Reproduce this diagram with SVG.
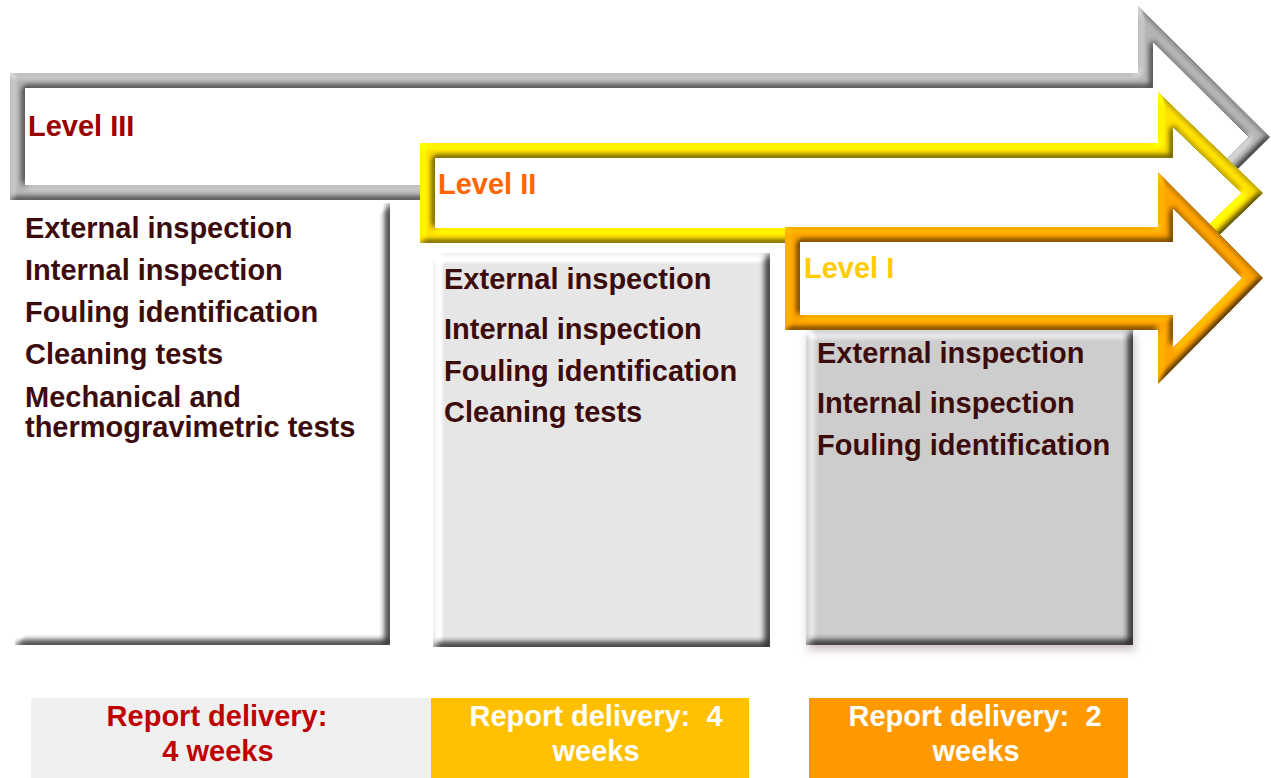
<svg xmlns="http://www.w3.org/2000/svg" xmlns:xlink="http://www.w3.org/1999/xlink" width="1271" height="778" viewBox="0 0 1271 778">
<style>
.item{font-family:"Liberation Sans",Arial,sans-serif;font-weight:bold;font-size:29px;fill:#3c0c0c}
.lvl{font-family:"Liberation Sans",Arial,sans-serif;font-weight:bold;font-size:29px}
.rep{font-family:"Liberation Sans",Arial,sans-serif;font-weight:bold;font-size:29px;text-anchor:middle}
.band{fill:none;stroke-width:30;stroke-linejoin:miter;stroke-miterlimit:10}
</style>
<defs>
<polygon id="pg" points="10,73 1138,73 1138,6 1270,137 1138,268 1138,200 10,200"/>
<polygon id="py" points="420,143 1158,143 1158,92 1263,193 1158,294 1158,243 420,243"/>
<polygon id="po" points="785,227 1158,227 1158,172 1263,278 1158,384 1158,330 785,330"/>
<clipPath id="cg"><use xlink:href="#pg"/></clipPath>
<clipPath id="cy"><use xlink:href="#py"/></clipPath>
<clipPath id="co"><use xlink:href="#po"/></clipPath>
<filter id="bevel" color-interpolation-filters="sRGB" x="-5%" y="-5%" width="110%" height="110%">
<feGaussianBlur in="SourceAlpha" stdDeviation="3" result="b"/>
<feDiffuseLighting in="b" surfaceScale="5" diffuseConstant="1" lighting-color="#ffffff" result="l">
<feDistantLight azimuth="225" elevation="50"/>
</feDiffuseLighting>
<feComposite in="SourceGraphic" in2="l" operator="arithmetic" k1="0.75" k2="0.43" k3="0" k4="0"/>
</filter>
<filter id="boxbevel" color-interpolation-filters="sRGB" x="-5%" y="-5%" width="110%" height="110%">
<feGaussianBlur in="SourceAlpha" stdDeviation="4.5" result="b"/>
<feDiffuseLighting in="b" surfaceScale="8" diffuseConstant="1" lighting-color="#ffffff" result="l">
<feDistantLight azimuth="225" elevation="50"/>
</feDiffuseLighting>
<feComposite in="SourceGraphic" in2="l" operator="arithmetic" k1="0.95" k2="0.28" k3="0" k4="0"/>
</filter>
<filter id="boxshadow" color-interpolation-filters="sRGB" x="-10%" y="-10%" width="120%" height="120%">
<feGaussianBlur in="SourceAlpha" stdDeviation="4.5" result="b"/>
<feDiffuseLighting in="b" surfaceScale="8" diffuseConstant="1" lighting-color="#ffffff" result="l">
<feDistantLight azimuth="225" elevation="50"/>
</feDiffuseLighting>
<feComposite in="SourceGraphic" in2="l" operator="arithmetic" k1="0.95" k2="0.28" k3="0" k4="0" result="lit"/>
<feGaussianBlur in="SourceAlpha" stdDeviation="4" result="sb"/>
<feOffset in="sb" dx="2" dy="5" result="so"/>
<feFlood flood-color="#9a8585" flood-opacity="0.5"/>
<feComposite in2="so" operator="in" result="sh"/>
<feMerge><feMergeNode in="sh"/><feMergeNode in="lit"/></feMerge>
</filter>
</defs>

<g id="box-level3">
<rect x="15" y="203" width="375" height="442" fill="#ffffff" filter="url(#boxbevel)"/>
<text class="item" x="25" y="238">External inspection</text>
<text class="item" x="25" y="280">Internal inspection</text>
<text class="item" x="25" y="322">Fouling identification</text>
<text class="item" x="25" y="364">Cleaning tests</text>
<text class="item" x="25" y="407">Mechanical and</text>
<text class="item" x="25" y="437">thermogravimetric tests</text>
</g>

<g id="box-level2">
<rect x="433" y="253" width="337" height="394" fill="#e5e5e5" filter="url(#boxbevel)"/>
<text class="item" x="444" y="289">External inspection</text>
<text class="item" x="444" y="339">Internal inspection</text>
<text class="item" x="444" y="381">Fouling identification</text>
<text class="item" x="444" y="422">Cleaning tests</text>
</g>

<g id="box-level1">
<rect x="806" y="330" width="327" height="315" fill="#cccccc" filter="url(#boxshadow)"/>
<text class="item" x="817" y="363">External inspection</text>
<text class="item" x="817" y="413">Internal inspection</text>
<text class="item" x="817" y="455">Fouling identification</text>
</g>

<g id="arrow-level3">
<use xlink:href="#pg" fill="#ffffff"/>
<g filter="url(#bevel)"><use xlink:href="#pg" class="band" stroke="#b4b4b4" clip-path="url(#cg)"/></g>
<text class="lvl" x="28" y="136" fill="#990000">Level III</text>
</g>

<g id="arrow-level2">
<use xlink:href="#py" fill="#ffffff"/>
<g filter="url(#bevel)"><use xlink:href="#py" class="band" stroke="#ffe000" clip-path="url(#cy)"/></g>
<text class="lvl" x="438" y="194" fill="#ff6600">Level II</text>
</g>

<g id="arrow-level1">
<use xlink:href="#po" fill="#ffffff"/>
<g filter="url(#bevel)"><use xlink:href="#po" class="band" stroke="#ffa200" clip-path="url(#co)"/></g>
<text class="lvl" x="804" y="278" fill="#ffcc00">Level I</text>
</g>

<g id="report-level3">
<rect x="31" y="698" width="400" height="80" fill="#f0f0f0"/>
<text class="rep" x="217" y="726" fill="#c00000">Report delivery:</text>
<text class="rep" x="218" y="761" fill="#c00000">4 weeks</text>
</g>

<g id="report-level2">
<rect x="431" y="698" width="318" height="80" fill="#ffc000"/>
<text class="rep" x="596" y="726" fill="#ffffff" xml:space="preserve">Report delivery:  4</text>
<text class="rep" x="596" y="761" fill="#ffffff">weeks</text>
</g>

<g id="report-level1">
<rect x="809" y="698" width="319" height="80" fill="#ff9900"/>
<text class="rep" x="975" y="726" fill="#ffffff" xml:space="preserve">Report delivery:  2</text>
<text class="rep" x="976" y="761" fill="#ffffff">weeks</text>
</g>
</svg>
